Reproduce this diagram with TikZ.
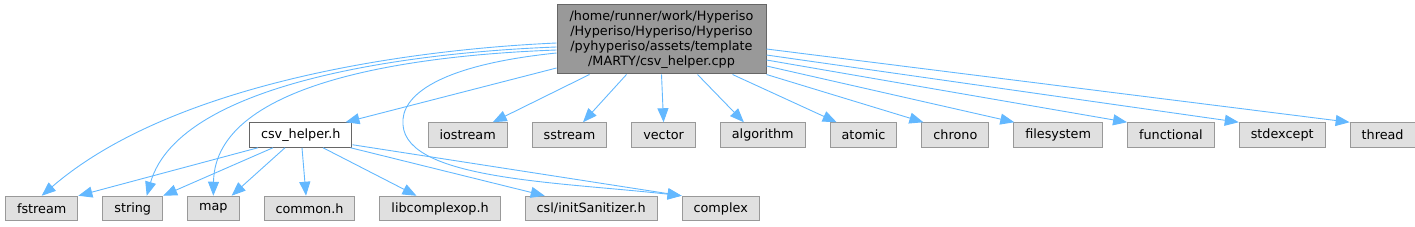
\documentclass[tikz,border=0pt]{standalone}
\usepackage{fontspec}
\setmainfont{DejaVu Sans}
\usetikzlibrary{arrows.meta,positioning}
\definecolor{edgeblue}{HTML}{63B8FF}
\definecolor{boxgray}{HTML}{E0E0E0}
\definecolor{boxline}{HTML}{999999}
\definecolor{rootfill}{HTML}{999999}
\definecolor{rootline}{HTML}{666666}
\tikzset{
  inc/.style={->, >={Triangle[length=14pt,width=11pt]}, color=edgeblue, line width=0.9pt}
}

\begin{document}
\begin{tikzpicture}[x=1pt, y=-1pt,
            node distance=24pt, % gap between boxes
            file/.style={rectangle, draw=boxline, fill=boxgray, line width=1pt, minimum height=24.5pt, inner xsep=11.5pt, inner ysep=0pt, font=\fontsize{12.8}{15}\selectfont},
            header/.style={file, draw=rootline, fill=white},
            mainfile/.style={file, draw=rootline, fill=rootfill, align=center, minimum width=209pt, minimum height=69pt}
        ]
        \useasboundingbox (0,0) rectangle (1415,227);

        % the file itself
        \node (root) [mainfile] at (661.5,39.5) {/home/runner/work/Hyperiso\\/Hyperiso/Hyperiso/Hyperiso\\/pyhyperiso/assets/template\\/MARTY/csv\_helper.cpp};

        % middle row
        \node (csvh) [header, anchor=west] at (249,135) {csv\_helper.h};
        \node (iostream) [file, right=75pt of csvh] {iostream};
        \node (sstream) [file, right=of iostream] {sstream};
        \node (vector) [file, right=of sstream] {vector};
        \node (algorithm) [file, right=of vector] {algorithm};
        \node (atomic) [file, right=of algorithm] {atomic};
        \node (chrono) [file, right=of atomic] {chrono};
        \node (filesystem) [file, right=of chrono] {filesystem};
        \node (functional) [file, right=of filesystem] {functional};
        \node (stdexcept) [file, right=of functional] {stdexcept};
        \node (thread) [file, right=of stdexcept] {thread};

        % bottom row
        \node (fstream) [file, anchor=west] at (5,208.5) {fstream};
        \node (string) [file, right=of fstream] {string};
        \node (map) [file, right=of string] {map};
        \node (common) [file, right=of map] {common.h};
        \node (libcomplexop) [file, right=of common] {libcomplexop.h};
        \node (initsan) [file, right=of libcomplexop] {csl/initSanitizer.h};
        \node (complex) [file, right=of initsan] {complex};

        % includes of the .cpp, curved ones on the left
        \draw [inc] ([yshift=-3.5pt]root.west) .. controls (400,50) and (170,85) .. (fstream.north);
        \draw [inc] ([yshift=-7.5pt]root.west) .. controls (420,52) and (180,80) .. ([xshift=14pt]string.north);
        \draw [inc] ([yshift=-10.5pt]root.west) .. controls (420,55) and (215,80) .. (map.north);
        \draw [inc] ([yshift=-13.5pt]root.west) .. controls (440,65) and (400,95) .. (403,125)
            .. controls (407,180) and (560,182) .. (complex.north west);
        \draw [inc] ([yshift=-28.5pt]root.west) -- ([xshift=-7pt]csvh.north east);

        % includes of the .cpp, straight ones
        \draw [inc] ([xshift=33pt]root.south west) -- ([xshift=-15pt]iostream.north east);
        \draw [inc] ([xshift=70pt]root.south west) -- ([xshift=13.5pt]sstream.north);
        \draw [inc] (root.south) -- (vector.north);
        \draw [inc] ([xshift=141pt]root.south west) -- ([xshift=24pt]algorithm.north west);
        \draw [inc] ([xshift=176pt]root.south west) -- ([xshift=7pt]atomic.north west);
        \draw [inc] (root.south east) -- ([xshift=2pt]chrono.north west);
        \draw [inc] ([yshift=-26.5pt]root.east) -- ([xshift=1pt]filesystem.north west);
        \draw [inc] ([yshift=-20.5pt]root.east) -- (functional.north west);
        \draw [inc] ([yshift=-15.5pt]root.east) -- (stdexcept.north west);
        \draw [inc] ([yshift=-9.5pt]root.east) -- (thread.north west);

        % includes of csv_helper.h
        \draw [inc] ([xshift=9pt]csvh.south west) -- (fstream.north east);
        \draw [inc] ([xshift=24pt]csvh.south west) -- (string.north east);
        \draw [inc] ([xshift=36pt]csvh.south west) -- ([xshift=-8pt]map.north east);
        \draw [inc] ([xshift=53pt]csvh.south west) -- ([xshift=-3.5pt]common.north);
        \draw [inc] ([xshift=74pt]csvh.south west) -- ([xshift=37pt]libcomplexop.north west);
        \draw [inc] ([xshift=-2pt]csvh.south east) -- ([xshift=20pt]initsan.north west);
        \draw [inc] ([yshift=3pt]csvh.south east) -- (complex.north west);
\end{tikzpicture}
\end{document}
